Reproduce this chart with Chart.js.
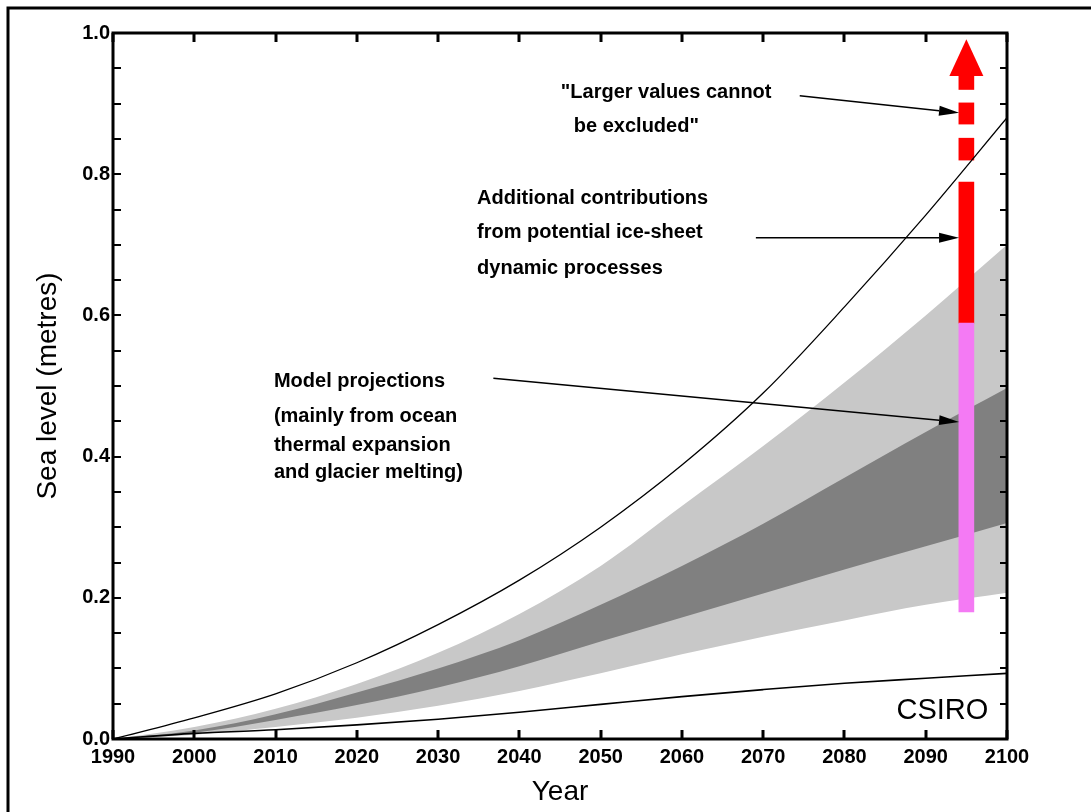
<!DOCTYPE html>
<html>
<head>
<meta charset="utf-8">
<script src="https://cdn.jsdelivr.net/npm/chart.js@4/dist/chart.umd.min.js"></script>
<style>
  html, body { margin: 0; padding: 0; background: #fff; }
  #wrap { width: 1091px; height: 812px; position: relative; }
</style>
</head>
<body>
<div id="wrap"><canvas id="slrChart"></canvas></div>
<script>
// decades along the x axis
const years      = [1990, 2000, 2010, 2020, 2030, 2040, 2050, 2060, 2070, 2080, 2090, 2100];
// thin black curves
const upperCurve = [0, 0.030, 0.064, 0.108, 0.162, 0.225, 0.300, 0.388, 0.490, 0.612, 0.742, 0.880];
const lowerLine  = [0, 0.008, 0.013, 0.020, 0.028, 0.038, 0.049, 0.060, 0.070, 0.079, 0.086, 0.093];
// shaded model range (light = full range, dark = central range)
const lightHigh  = [0, 0.017, 0.043, 0.078, 0.122, 0.177, 0.245, 0.330, 0.415, 0.505, 0.600, 0.700];
const lightLow   = [0, 0.006, 0.017, 0.030, 0.047, 0.068, 0.093, 0.120, 0.145, 0.168, 0.190, 0.207];
const darkHigh   = [0, 0.012, 0.035, 0.066, 0.100, 0.140, 0.190, 0.245, 0.305, 0.370, 0.435, 0.497];
const darkLow    = [0, 0.009, 0.027, 0.048, 0.073, 0.103, 0.138, 0.172, 0.206, 0.240, 0.273, 0.306];
// vertical bar at 2095
const barYear     = 2095;
const pinkSegment = [0.18, 0.589];
const redSegments = [[0.589, 0.789], [0.820, 0.851], [0.871, 0.901], [0.920, 0.940]];
const arrowTop    = [0.939, 0.991];
// ticks
const xTickYears = [1990, 2000, 2010, 2020, 2030, 2040, 2050, 2060, 2070, 2080, 2090, 2100];
const yMinorTicks = [0, 0.05, 0.1, 0.15, 0.2, 0.25, 0.3, 0.35, 0.4, 0.45, 0.5, 0.55, 0.6, 0.65, 0.7, 0.75, 0.8, 0.85, 0.9, 0.95, 1.0];

// text notes, anchored in data units
const notes = [
  { text: '"Larger values cannot', x: 2045.1, y: 0.916 },
  { text: 'be excluded"',           x: 2046.7, y: 0.868 },
  { text: 'Additional contributions', x: 2034.8, y: 0.766 },
  { text: 'from potential ice-sheet', x: 2034.8, y: 0.718 },
  { text: 'dynamic processes',        x: 2034.8, y: 0.667 },
  { text: 'Model projections',        x: 2009.8, y: 0.507 },
  { text: '(mainly from ocean',       x: 2009.8, y: 0.4575 },
  { text: 'thermal expansion',        x: 2009.8, y: 0.416 },
  { text: 'and glacier melting)',     x: 2009.8, y: 0.378 }
];
const pointers = [
  { from: [2074.5, 0.911], to: [2094.1, 0.887] },
  { from: [2069.1, 0.710], to: [2094.1, 0.710] },
  { from: [2036.8, 0.511], to: [2094.1, 0.449] }
];

const pts = arr => years.map((yr, i) => ({ x: yr, y: arr[i] }));
const FONT = 'Liberation Sans';

const decor = {
  id: 'decor',
  afterDraw(chart) {
    const { ctx, chartArea: a, scales: { x, y } } = chart;
    ctx.save();
    // outer frame (only left and top are inside the picture)
    ctx.strokeStyle = '#000';
    ctx.lineWidth = 3;
    ctx.beginPath();
    ctx.moveTo(8, 820); ctx.lineTo(8, 8); ctx.lineTo(1100, 8);
    ctx.stroke();

    // axis box
    ctx.strokeRect(a.left, a.top, a.right - a.left, a.bottom - a.top);

    // inward ticks
    ctx.lineWidth = 3;
    ctx.beginPath();
    xTickYears.forEach(v => {
      const px = Math.round(x.getPixelForValue(v));
      ctx.moveTo(px, a.bottom); ctx.lineTo(px, a.bottom - 9);
      ctx.moveTo(px, a.top); ctx.lineTo(px, a.top + 9);
    });
    ctx.stroke();
    ctx.lineWidth = 2;
    ctx.beginPath();
    yMinorTicks.forEach(v => {
      const py = Math.round(y.getPixelForValue(v));
      ctx.moveTo(a.left, py); ctx.lineTo(a.left + 8, py);
      ctx.moveTo(a.right, py); ctx.lineTo(a.right - 7, py);
    });
    ctx.stroke();

    // red arrow head on top of the bar
    const bx = x.getPixelForValue(barYear);
    ctx.fillStyle = '#f00';
    ctx.beginPath();
    ctx.moveTo(bx, y.getPixelForValue(arrowTop[1]));
    ctx.lineTo(bx + 17, y.getPixelForValue(arrowTop[0]));
    ctx.lineTo(bx - 17, y.getPixelForValue(arrowTop[0]));
    ctx.closePath();
    ctx.fill();

    // pointer arrows
    ctx.strokeStyle = '#000';
    ctx.fillStyle = '#000';
    ctx.lineWidth = 1.5;
    pointers.forEach(p => {
      const x1 = x.getPixelForValue(p.from[0]), y1 = y.getPixelForValue(p.from[1]);
      const x2 = x.getPixelForValue(p.to[0]),   y2 = y.getPixelForValue(p.to[1]);
      const ang = Math.atan2(y2 - y1, x2 - x1);
      const hl = 20, hw = 5;
      const bxh = x2 - hl * Math.cos(ang), byh = y2 - hl * Math.sin(ang);
      ctx.beginPath();
      ctx.moveTo(x1, y1); ctx.lineTo(bxh, byh);
      ctx.stroke();
      ctx.beginPath();
      ctx.moveTo(x2, y2);
      ctx.lineTo(bxh + hw * Math.sin(ang), byh - hw * Math.cos(ang));
      ctx.lineTo(bxh - hw * Math.sin(ang), byh + hw * Math.cos(ang));
      ctx.closePath();
      ctx.fill();
    });

    // notes
    ctx.font = 'bold 20px "' + FONT + '"';
    ctx.textAlign = 'left';
    ctx.textBaseline = 'middle';
    notes.forEach(n => ctx.fillText(n.text, x.getPixelForValue(n.x), y.getPixelForValue(n.y)));

    // credit
    ctx.font = '29px "' + FONT + '"';
    ctx.textAlign = 'right';
    ctx.fillText('CSIRO', x.getPixelForValue(2097.7), y.getPixelForValue(0.040));
    ctx.restore();
  }
};

const ctx = document.getElementById('slrChart').getContext('2d');
const chart = new Chart(ctx, {
  type: 'line',
  data: {
    datasets: [
      { label: 'upper', data: pts(upperCurve), borderColor: '#000', borderWidth: 1.3, pointRadius: 0, cubicInterpolationMode: 'monotone', fill: false, order: 0 },
      { label: 'lower', data: pts(lowerLine), borderColor: '#000', borderWidth: 1.6, pointRadius: 0, cubicInterpolationMode: 'monotone', fill: false, order: 0 },
      { label: 'darkLow', data: pts(darkLow), borderColor: 'transparent', borderWidth: 0, pointRadius: 0, cubicInterpolationMode: 'monotone', fill: false, order: 2 },
      { label: 'darkHigh', data: pts(darkHigh), borderColor: 'transparent', borderWidth: 0, pointRadius: 0, cubicInterpolationMode: 'monotone', fill: 2, backgroundColor: '#808080', order: 2 },
      { label: 'lightLow', data: pts(lightLow), borderColor: 'transparent', borderWidth: 0, pointRadius: 0, cubicInterpolationMode: 'monotone', fill: false, order: 3 },
      { label: 'lightHigh', data: pts(lightHigh), borderColor: 'transparent', borderWidth: 0, pointRadius: 0, cubicInterpolationMode: 'monotone', fill: 4, backgroundColor: '#c8c8c8', order: 3 },
      { type: 'bar', label: 'model', data: [{ x: barYear, y: pinkSegment }], backgroundColor: '#f47af4', barThickness: 15, grouped: false, borderWidth: 0, order: 1 },
      { type: 'bar', label: 'ice', data: redSegments.map(s => ({ x: barYear, y: s })), backgroundColor: '#f00', barThickness: 15, grouped: false, borderWidth: 0, order: 1 }
    ]
  },
  options: {
    responsive: true,
    maintainAspectRatio: false,
    animation: false,
    events: [],
    layout: { padding: { top: 33, right: 84, left: 0, bottom: 0 } },
    plugins: { legend: { display: false }, tooltip: { enabled: false } },
    scales: {
      x: {
        type: 'linear', min: 1990, max: 2100, offset: false,
        grid: { display: false, drawTicks: false }, border: { display: false },
        ticks: { stepSize: 10, padding: 6, autoSkip: false, maxRotation: 0, color: '#000',
                 font: { family: FONT, size: 20, weight: 'bold' }, callback: v => String(v) },
        title: { display: true, text: 'Year', color: '#000', font: { family: FONT, size: 28 }, padding: { top: 0, bottom: 3 } },
        afterFit: s => { s.height = 73; }
      },
      y: {
        type: 'linear', min: 0, max: 1,
        grid: { display: false, drawTicks: false }, border: { display: false },
        ticks: { stepSize: 0.2, padding: 3, color: '#000',
                 font: { family: FONT, size: 20, weight: 'bold' }, callback: v => v.toFixed(1) },
        title: { display: true, text: 'Sea level (metres)', color: '#000', font: { family: FONT, size: 28 }, padding: { top: 31, bottom: 0 } },
        afterFit: s => { s.width = 113; }
      }
    }
  },
  plugins: [decor]
});
</script>
</body>
</html>
